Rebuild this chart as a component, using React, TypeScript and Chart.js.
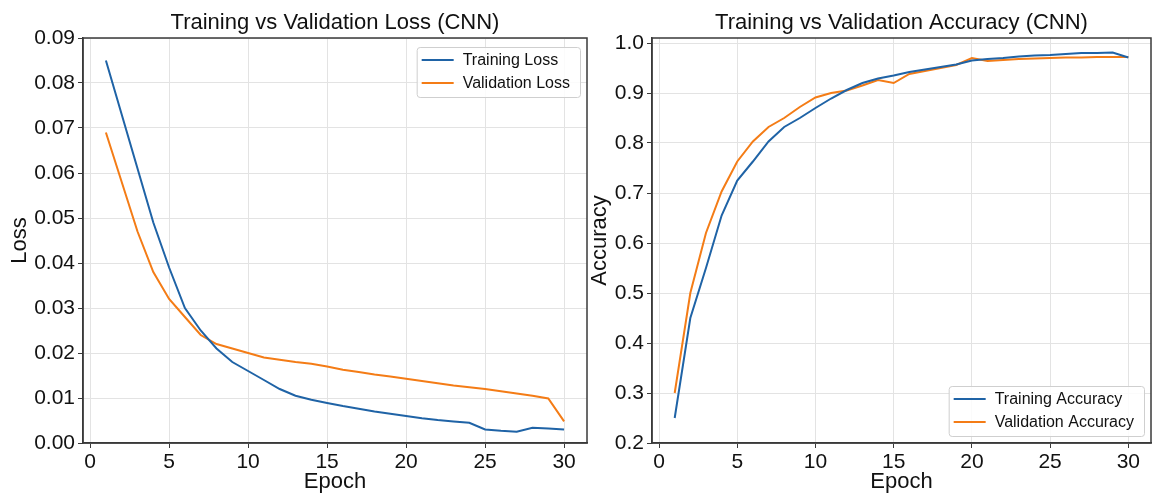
import React, { useEffect, useRef } from 'react';
import { Chart, registerables } from 'chart.js';

Chart.register(...registerables);

const epochs = [1, 2, 3, 4, 5, 6, 7, 8, 9, 10, 11, 12, 13, 14, 15, 16, 17, 18, 19, 20, 21, 22, 23, 24, 25, 26, 27, 28, 29, 30];
const trainLoss = [0.085, 0.073, 0.061, 0.049, 0.039, 0.030, 0.025, 0.021, 0.018, 0.016, 0.014, 0.012, 0.0105, 0.0096, 0.0089, 0.0082, 0.0076, 0.0070, 0.0065, 0.0060, 0.0055, 0.0051, 0.0048, 0.0045, 0.0030, 0.0027, 0.0025, 0.0034, 0.0032, 0.0030];
const valLoss = [0.069, 0.058, 0.047, 0.038, 0.032, 0.028, 0.024, 0.022, 0.021, 0.020, 0.019, 0.0185, 0.018, 0.0176, 0.017, 0.0163, 0.0158, 0.0152, 0.0148, 0.0143, 0.0138, 0.0133, 0.0128, 0.0124, 0.012, 0.0115, 0.011, 0.0105, 0.0099, 0.0048];
const trainAcc = [0.25, 0.45, 0.55, 0.655, 0.725, 0.763, 0.803, 0.832, 0.85, 0.87, 0.889, 0.906, 0.92, 0.929, 0.935, 0.942, 0.947, 0.952, 0.957, 0.965, 0.968, 0.97, 0.973, 0.975, 0.976, 0.978, 0.98, 0.98, 0.981, 0.971];
const valAcc = [0.30, 0.50, 0.62, 0.703, 0.763, 0.803, 0.832, 0.85, 0.872, 0.891, 0.90, 0.905, 0.915, 0.926, 0.92, 0.938, 0.944, 0.95, 0.956, 0.97, 0.964, 0.966, 0.968, 0.969, 0.97, 0.971, 0.971, 0.972, 0.972, 0.972];

const epochTicks = [0, 5, 10, 15, 20, 25, 30];
const lossTicks = [0, 0.01, 0.02, 0.03, 0.04, 0.05, 0.06, 0.07, 0.08, 0.09];
const accTicks = [0.2, 0.3, 0.4, 0.5, 0.6, 0.7, 0.8, 0.9, 1.0];

const BLUE = '#1f63a6';
const ORANGE = '#f47c16';
const FONT = "'Liberation Sans', Arial, Helvetica, sans-serif";
const TEXT = '#111111';
const SPINE = '#3a3a3a';
const GRID = '#e3e3e3';

const decorPlugin = {
  id: 'decor',
  afterDraw(chart: any, _args: any, opts: any) {
    const { ctx, chartArea } = chart;
    const { left, right, top, bottom } = chartArea;
    ctx.save();
    // frame (spines)
    ctx.strokeStyle = SPINE;
    ctx.lineWidth = 1.5;
    ctx.strokeRect(left, top, right - left, bottom - top);
    // title
    ctx.fillStyle = TEXT;
    ctx.font = `22px ${FONT}`;
    ctx.textAlign = 'center';
    ctx.textBaseline = 'alphabetic';
    ctx.fillText(opts.title, (left + right) / 2, 29);
    // legend
    ctx.font = `16px ${FONT}`;
    const items = chart.data.datasets.map((d: any) => ({ label: d.label, color: d.borderColor }));
    let tw = 0;
    items.forEach((it: any) => { tw = Math.max(tw, ctx.measureText(it.label).width); });
    const w = 46 + tw + 10;
    const h = 50;
    const bx = right - 7 - w;
    const by = opts.corner === 'tr' ? top + 9 : bottom - 7 - h;
    ctx.fillStyle = 'rgba(255,255,255,0.85)';
    ctx.strokeStyle = '#cfcfcf';
    ctx.lineWidth = 1;
    ctx.beginPath();
    if ((ctx as any).roundRect) (ctx as any).roundRect(bx + 0.5, by + 0.5, w, h, 3);
    else ctx.rect(bx + 0.5, by + 0.5, w, h);
    ctx.fill();
    ctx.stroke();
    items.forEach((it: any, i: number) => {
      const y = by + 13 + i * 23;
      ctx.strokeStyle = it.color;
      ctx.lineWidth = 2.2;
      ctx.beginPath();
      ctx.moveTo(bx + 5, y);
      ctx.lineTo(bx + 37, y);
      ctx.stroke();
      ctx.fillStyle = TEXT;
      ctx.textAlign = 'left';
      ctx.textBaseline = 'middle';
      ctx.fillText(it.label, bx + 46, y + 1);
    });
    ctx.restore();
  },
};

function makeConfig(opts: any): any {
  return {
    type: 'line',
    data: {
      datasets: opts.series.map((s: any) => ({
        label: s.label,
        data: epochs.map((e, i) => ({ x: e, y: s.values[i] })),
        borderColor: s.color,
        backgroundColor: s.color,
        borderWidth: 2,
        pointRadius: 0,
        tension: 0,
        fill: false,
      })),
    },
    options: {
      responsive: false,
      animation: false,
      devicePixelRatio: 1,
      layout: { padding: { top: 38, right: opts.padRight, bottom: 0, left: 0 } },
      plugins: {
        legend: { display: false },
        title: { display: false },
        tooltip: { enabled: false },
        decor: { title: opts.title, corner: opts.corner },
      },
      scales: {
        x: {
          type: 'linear',
          min: -0.45,
          max: 31.45,
          afterBuildTicks: (s: any) => { s.ticks = epochTicks.map((v) => ({ value: v })); },
          afterFit: (s: any) => { s.height = 52; },
          ticks: {
            font: { family: FONT, size: 21 },
            color: TEXT,
            padding: 2,
            maxRotation: 0,
            autoSkip: false,
            callback: (v: any) => String(v),
          },
          grid: { color: GRID, tickColor: SPINE, tickLength: 5, lineWidth: 1 },
          border: { color: SPINE, width: 1.5 },
          title: { display: true, text: 'Epoch', font: { family: FONT, size: 22 }, color: TEXT, padding: { top: 0, bottom: 0 } },
        },
        y: {
          type: 'linear',
          min: opts.yMin,
          max: opts.yMax,
          afterBuildTicks: (s: any) => { s.ticks = opts.yTicks.map((v: number) => ({ value: v })); },
          afterFit: (s: any) => { s.width = opts.yWidth; },
          ticks: {
            font: { family: FONT, size: 21 },
            color: TEXT,
            padding: 3,
            autoSkip: false,
            callback: (v: any) => Number(v).toFixed(opts.decimals),
          },
          grid: { color: GRID, tickColor: SPINE, tickLength: 5, lineWidth: 1 },
          border: { color: SPINE, width: 1.5 },
          title: { display: true, text: opts.yTitle, font: { family: FONT, size: 22 }, color: TEXT, padding: { top: 7, bottom: 0 } },
        },
      },
    },
    plugins: [decorPlugin],
  };
}

function ChartCanvas(props: { config: any; left: number; width: number }) {
  const ref = useRef<HTMLCanvasElement | null>(null);
  useEffect(() => {
    if (!ref.current) return;
    const chart = new Chart(ref.current, props.config);
    return () => chart.destroy();
  }, []);
  return (
    <canvas
      ref={ref}
      width={props.width}
      height={495}
      style={{ position: 'absolute', left: props.left, top: 0, width: props.width, height: 495 }}
    />
  );
}

export default function App() {
  const lossCfg = makeConfig({
    title: 'Training vs Validation Loss (CNN)',
    corner: 'tr',
    padRight: 3,
    yMin: 0,
    yMax: 0.09,
    yTicks: lossTicks,
    yWidth: 83,
    decimals: 2,
    yTitle: 'Loss',
    series: [
      { label: 'Training Loss', values: trainLoss, color: BLUE },
      { label: 'Validation Loss', values: valLoss, color: ORANGE },
    ],
  });
  const accCfg = makeConfig({
    title: 'Training vs Validation Accuracy (CNN)',
    corner: 'br',
    padRight: 1,
    yMin: 0.2,
    yMax: 1.01,
    yTicks: accTicks,
    yWidth: 72,
    decimals: 1,
    yTitle: 'Accuracy',
    series: [
      { label: 'Training Accuracy', values: trainAcc, color: BLUE },
      { label: 'Validation Accuracy', values: valAcc, color: ORANGE },
    ],
  });
  return (
    <div style={{ position: 'fixed', left: 0, top: 0, width: 1152, height: 495, background: '#ffffff', overflow: 'hidden' }}>
      <ChartCanvas config={lossCfg} left={0} width={590} />
      <ChartCanvas config={accCfg} left={580} width={572} />
    </div>
  );
}
